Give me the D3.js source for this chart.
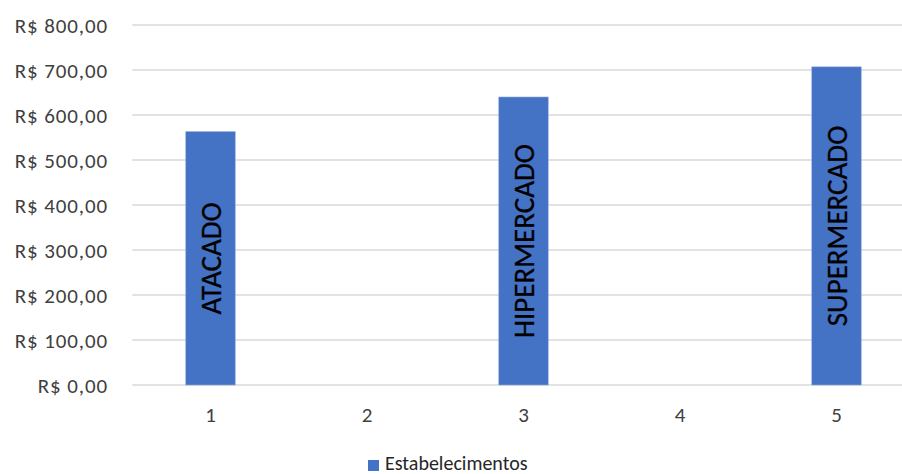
<!DOCTYPE html>
<html>
<head>
<meta charset="utf-8">
<script src="https://cdn.jsdelivr.net/npm/d3@7"></script>
<style>
  html, body { margin: 0; padding: 0; background: #fff; }
  svg { display: block; overflow: hidden; }
  text { font-family: Carlito, Calibri, Lato, "Open Sans", sans-serif; }
</style>
</head>
<body>
<svg id="chart" width="902" height="474"></svg>
<script>
const categories = ["1", "2", "3", "4", "5"];
const values = [563, null, 640, null, 707];
const barLabels = ["ATACADO", "", "HIPERMERCADO", "", "SUPERMERCADO"];
const yTicks = [0, 100, 200, 300, 400, 500, 600, 700, 800];
const seriesName = "Estabelecimentos";

const svg = d3.select("#chart");

const x = d3.scaleBand()
  .domain(categories)
  .range([132.25, 914.75])
  .paddingInner(0.684)
  .paddingOuter(0.342);

const y = d3.scaleLinear().domain([0, 800]).range([385, 25]);

const fmt = v => "R$ " + d3.format(",.2f")(v).replace(/,/g, "#").replace(".", ",").replace(/#/g, ".");

// gridlines
svg.append("g")
  .selectAll("line")
  .data(yTicks)
  .join("line")
  .attr("x1", 132.25)
  .attr("x2", 914.75)
  .attr("y1", d => y(d))
  .attr("y2", d => y(d))
  .attr("stroke", "#d9d9d9")
  .attr("stroke-width", 1.5);

// y axis labels
const yAxis = d3.axisLeft(y).tickValues(yTicks).tickFormat(fmt).tickSize(0).tickPadding(24);
const gy = svg.append("g").attr("transform", "translate(132,0)").call(yAxis);
gy.select(".domain").remove();
gy.selectAll("text")
  .attr("fill", "#404040")
  .style("font-size", "21px")
  .style("letter-spacing", "0.9px")
  .attr("dy", "0.34em");

// x axis labels
const xAxis = d3.axisBottom(x).tickSize(0).tickPadding(0);
const gx = svg.append("g").attr("transform", "translate(0,385)").call(xAxis);
gx.select(".domain").remove();
gx.selectAll("text")
  .attr("fill", "#404040")
  .style("font-size", "21px")
  .attr("y", 37)
  .attr("dy", 0);

// bars
const data = categories.map((c, i) => ({ c, v: values[i], label: barLabels[i] })).filter(d => d.v != null);

svg.append("g")
  .selectAll("rect")
  .data(data)
  .join("rect")
  .attr("x", d => x(d.c))
  .attr("width", x.bandwidth())
  .attr("y", d => y(d.v))
  .attr("height", d => y(0) - y(d.v))
  .attr("fill", "#4472c4")
  .attr("stroke", "#8faadc")
  .attr("stroke-width", 0.6);

// bar labels (rotated)
svg.append("g")
  .selectAll("text")
  .data(data)
  .join("text")
  .attr("transform", d => `translate(${x(d.c) + x.bandwidth() / 2},${(y(d.v) + y(0)) / 2}) rotate(-90)`)
  .attr("text-anchor", "middle")
  .attr("dy", "0.36em")
  .attr("fill", "#000")
  .attr("stroke", "#000")
  .attr("stroke-width", 0.3)
  .style("font-size", "29px")
  .text(d => d.label);

// legend
const lg = svg.append("g");
lg.append("rect")
  .attr("x", 368).attr("y", 460)
  .attr("width", 11).attr("height", 11)
  .attr("fill", "#4472c4");
lg.append("text")
  .attr("x", 385).attr("y", 470)
  .attr("fill", "#262626")
  .style("font-size", "20px")
  .text(seriesName);
</script>
</body>
</html>
